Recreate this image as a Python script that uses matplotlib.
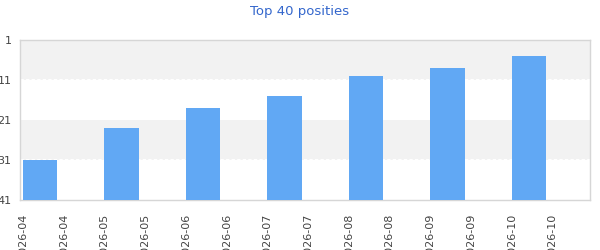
import numpy as np
import matplotlib
matplotlib.use("Agg")
import matplotlib.pyplot as plt

# chart positions per month (lower is better)
months = ["2026-04", "2026-05", "2026-06", "2026-07", "2026-08", "2026-09", "2026-10"]
ranks = [31, 23, 18, 15, 10, 8, 5]
y_ticks = [1, 11, 21, 31, 41]

plt.rc('font', family='DejaVu Sans')

fig = plt.figure(figsize=(6, 2.5), dpi=100)
ax = fig.add_axes([20 / 600, 0.2, 570 / 600, 0.64])

x = np.arange(len(months))
ax.bar(x, [41 - r for r in ranks], bottom=ranks, width=0.42, align='edge',
       color='#61a8f4', zorder=3)

# alternating background bands
for i in range(len(y_ticks) - 1):
    if i % 2 == 0:
        ax.axhspan(y_ticks[i], y_ticks[i + 1], color='#f2f2f2', lw=0, zorder=0)
        ax.axhline(y_ticks[i + 1] - 0.25, color='white', ls=(0, (3, 2)), lw=0.8, zorder=1)

ax.set_ylim(41, 1)
ax.set_xlim(-0.037, 6.96)
ax.set_yticks(y_ticks)
ax.set_yticklabels([str(t) for t in y_ticks])

tick_pos = []
tick_lab = []
for i, m in enumerate(months):
    tick_pos += [i, i + 0.5]
    tick_lab += [m, m]
ax.set_xticks(tick_pos)
ax.set_xticklabels(tick_lab, rotation=90)

ax.tick_params(axis='y', length=0, pad=6, labelsize=8, labelcolor='#444444')
ax.tick_params(axis='x', length=0, pad=10, labelsize=8, labelcolor='#444444')

for s in ax.spines.values():
    s.set_color('#d6d6d6')
    s.set_linewidth(1)

fig.text(0.5, 1 - 11 / 250, "Top 40 posities", ha='center', va='center',
         color='#3366cc', fontsize=9.5)

fig.savefig("out.png", dpi=100)
